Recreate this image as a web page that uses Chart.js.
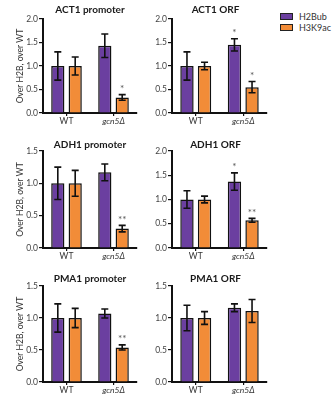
<!DOCTYPE html>
<html><head><meta charset="utf-8">
<script src="https://cdn.jsdelivr.net/npm/chart.js@4"></script>
<style>
body{margin:0;background:#fff;width:335px;height:400px;position:relative;overflow:hidden;font-family:Lato,sans-serif}
canvas{position:absolute}
#legend{position:absolute;left:280px;top:10.5px;font:9px Lato,sans-serif;color:#333}
.item{display:flex;align-items:center;height:11px;white-space:nowrap}
.sw{width:13px;height:7px;border:1px solid #222;margin-right:6px;box-sizing:border-box}
</style></head><body>
<div id="legend"></div>
<script>
// ---------- data ----------
const categories = ['WT', 'gcn5Δ'];
const seriesNames = ['H2Bub', 'H3K9ac'];
const panelTitles = ['ACT1 promoter', 'ACT1 ORF', 'ADH1 promoter', 'ADH1 ORF', 'PMA1 promoter', 'PMA1 ORF'];
const yAxisTitle = 'Over H2B, over WT';
const yMax = [2.0, 2.0, 1.5, 2.0, 1.5, 1.5];
const yTickStep = 0.5;

// values per panel: [WT, gcn5Δ]
const act1PromH2Bub = [1.00, 1.43], act1PromH2BubErr = [0.30, 0.25], act1PromH2BubSig = ['', ''];
const act1PromH3K9ac = [1.00, 0.33], act1PromH3K9acErr = [0.19, 0.06], act1PromH3K9acSig = ['', '*'];

const act1OrfH2Bub = [1.00, 1.45], act1OrfH2BubErr = [0.30, 0.13], act1OrfH2BubSig = ['', '*'];
const act1OrfH3K9ac = [1.00, 0.55], act1OrfH3K9acErr = [0.08, 0.12], act1OrfH3K9acSig = ['', '*'];

const adh1PromH2Bub = [1.00, 1.17], adh1PromH2BubErr = [0.25, 0.13], adh1PromH2BubSig = ['', ''];
const adh1PromH3K9ac = [1.00, 0.30], adh1PromH3K9acErr = [0.20, 0.05], adh1PromH3K9acSig = ['', '**'];

const adh1OrfH2Bub = [1.00, 1.37], adh1OrfH2BubErr = [0.18, 0.18], adh1OrfH2BubSig = ['', '*'];
const adh1OrfH3K9ac = [1.00, 0.57], adh1OrfH3K9acErr = [0.07, 0.04], adh1OrfH3K9acSig = ['', '**'];

const pma1PromH2Bub = [1.00, 1.07], pma1PromH2BubErr = [0.22, 0.07], pma1PromH2BubSig = ['', ''];
const pma1PromH3K9ac = [1.00, 0.54], pma1PromH3K9acErr = [0.15, 0.04], pma1PromH3K9acSig = ['', '**'];

const pma1OrfH2Bub = [1.00, 1.16], pma1OrfH2BubErr = [0.20, 0.06], pma1OrfH2BubSig = ['', ''];
const pma1OrfH3K9ac = [1.00, 1.11], pma1OrfH3K9acErr = [0.10, 0.18], pma1OrfH3K9acSig = ['', ''];

const seriesColors = ['#6b3fa0', '#f28c38'];

const panelData = [
  [[act1PromH2Bub, act1PromH2BubErr, act1PromH2BubSig], [act1PromH3K9ac, act1PromH3K9acErr, act1PromH3K9acSig]],
  [[act1OrfH2Bub, act1OrfH2BubErr, act1OrfH2BubSig], [act1OrfH3K9ac, act1OrfH3K9acErr, act1OrfH3K9acSig]],
  [[adh1PromH2Bub, adh1PromH2BubErr, adh1PromH2BubSig], [adh1PromH3K9ac, adh1PromH3K9acErr, adh1PromH3K9acSig]],
  [[adh1OrfH2Bub, adh1OrfH2BubErr, adh1OrfH2BubSig], [adh1OrfH3K9ac, adh1OrfH3K9acErr, adh1OrfH3K9acSig]],
  [[pma1PromH2Bub, pma1PromH2BubErr, pma1PromH2BubSig], [pma1PromH3K9ac, pma1PromH3K9acErr, pma1PromH3K9acSig]],
  [[pma1OrfH2Bub, pma1OrfH2BubErr, pma1OrfH2BubSig], [pma1OrfH3K9ac, pma1OrfH3K9acErr, pma1OrfH3K9acSig]]
];

// ---------- layout ----------
const PLOT_TOP = 19, XAXIS_H = 17;
const rows = [
  {plotTop: 19, plotBottom: 113, titleY: 10},
  {plotTop: 151, plotBottom: 248, titleY: 145},
  {plotTop: 286, plotBottom: 382, titleY: 279}
];
const cols = [
  {left: 0, width: 145, yWidth: 43, padRight: 8, yTitle: true, titleDx: 0},
  {left: 150, width: 125, yWidth: 22, padRight: 8, yTitle: false, titleDx: -4}
];

// legend
const legend = document.getElementById('legend');
seriesNames.forEach((n, i) => {
  const d = document.createElement('div'); d.className = 'item';
  const s = document.createElement('span'); s.className = 'sw'; s.style.background = seriesColors[i];
  d.appendChild(s); d.appendChild(document.createTextNode(n)); legend.appendChild(d);
});

const decor = {
  id: 'decor',
  afterDatasetsDraw(chart) {
    const {ctx, scales: {y}} = chart;
    chart.data.datasets.forEach((ds, di) => {
      const meta = chart.getDatasetMeta(di);
      meta.data.forEach((bar, i) => {
        const v = ds.data[i], e = ds.err[i];
        const yt = y.getPixelForValue(v + e), yb = y.getPixelForValue(v - e);
        ctx.save();
        ctx.strokeStyle = '#111'; ctx.lineWidth = 1.6;
        ctx.beginPath();
        ctx.moveTo(bar.x, yt); ctx.lineTo(bar.x, yb);
        ctx.moveTo(bar.x - 3.5, yt); ctx.lineTo(bar.x + 3.5, yt);
        ctx.moveTo(bar.x - 3.5, yb); ctx.lineTo(bar.x + 3.5, yb);
        ctx.stroke();
        if (ds.sig[i]) {
          ctx.fillStyle = '#555'; ctx.font = '10px Lato, sans-serif';
          ctx.textAlign = 'center'; ctx.textBaseline = 'middle';
          ctx.fillText(ds.sig[i], bar.x, yt - 6);
        }
        ctx.restore();
      });
    });
  },
  afterDraw(chart, args, opts) {
    const {ctx, chartArea} = chart;
    ctx.save();
    ctx.fillStyle = '#1a1a1a'; ctx.font = 'bold 10px Lato, sans-serif';
    ctx.textAlign = 'center'; ctx.textBaseline = 'middle';
    ctx.fillText(opts.title, (chartArea.left + chartArea.right) / 2 + opts.titleDx, opts.titleY);
    if (opts.yTitle) {
      ctx.translate(20, (chartArea.top + chartArea.bottom) / 2);
      ctx.rotate(-Math.PI / 2);
      ctx.fillStyle = '#333'; ctx.font = '8.5px Lato, sans-serif';
      ctx.fillText(yAxisTitle, 0, 0);
    }
    ctx.restore();
  }
};

panelTitles.forEach((title, p) => {
  const row = rows[Math.floor(p / 2)], col = cols[p % 2];
  const top = row.plotTop - PLOT_TOP;
  const height = row.plotBottom - top + XAXIS_H;
  const cv = document.createElement('canvas');
  cv.style.left = col.left + 'px'; cv.style.top = top + 'px';
  cv.style.width = col.width + 'px'; cv.style.height = height + 'px';
  cv.width = col.width; cv.height = height;
  document.body.appendChild(cv);
  new Chart(cv, {
    type: 'bar',
    data: {
      labels: categories,
      datasets: panelData[p].map((s, i) => ({
        label: seriesNames[i], data: s[0], err: s[1], sig: s[2],
        backgroundColor: seriesColors[i], borderColor: '#111', borderWidth: 1.5,
        categoryPercentage: 0.74, barPercentage: 0.76
      }))
    },
    options: {
      responsive: false, animation: false, devicePixelRatio: 1,
      layout: {padding: {top: PLOT_TOP, right: col.padRight, bottom: 0, left: 0}},
      plugins: {legend: {display: false}, tooltip: {enabled: false},
        decor: {title, titleY: row.titleY - top, titleDx: col.titleDx, yTitle: col.yTitle}},
      scales: {
        x: {
          grid: {display: true, drawOnChartArea: false, offset: false, tickLength: 3, color: '#111', lineWidth: 1.2},
          border: {display: true, color: '#111', width: 2},
          ticks: {padding: 0, color: '#333',
            font: (c) => ({family: 'Lato, sans-serif', size: 8.5, style: c.index === 1 ? 'italic' : 'normal'})},
          afterFit: (s) => { s.height = XAXIS_H; }
        },
        y: {
          min: 0, max: yMax[p],
          grid: {display: true, drawOnChartArea: false, tickLength: 4, color: '#111', lineWidth: 1.2},
          border: {display: true, color: '#111', width: 2},
          ticks: {stepSize: yTickStep, padding: 1, color: '#444', font: {family: 'Lato, sans-serif', size: 8.5},
            callback: (v) => v.toFixed(1)},
          afterFit: (s) => { s.width = col.yWidth; }
        }
      }
    },
    plugins: [decor]
  });
});
</script>
</body></html>
